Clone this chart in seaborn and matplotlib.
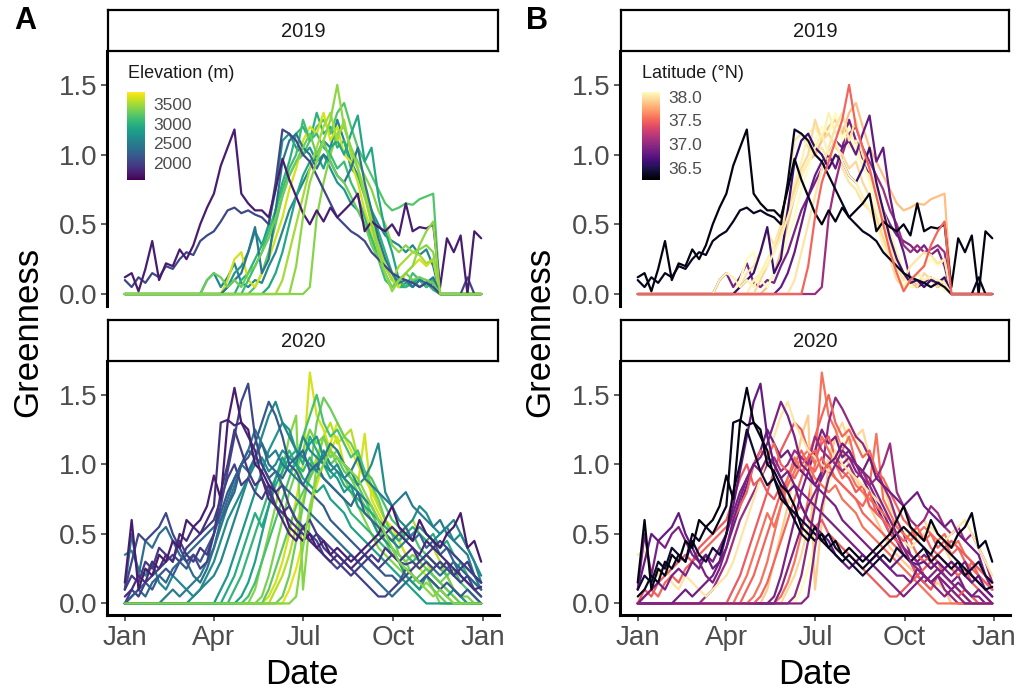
import numpy as np
import pandas as pd
import matplotlib
matplotlib.use("Agg")
import matplotlib.pyplot as plt
import seaborn as sns
from matplotlib import colors, cm

# ---------------- data (weekly greenness per site) -------------
week_start = "2020-01-01"
n_weeks = 53
tick_dates = ["2020-01-01", "2020-04-01", "2020-07-01", "2020-10-01", "2021-01-01"]
tick_labels = ["Jan", "Apr", "Jul", "Oct", "Jan"]
y_ticks = [0.0, 0.5, 1.0, 1.5]
y_tick_labels = ["0.0", "0.5", "1.0", "1.5"]
years = [2019, 2020]

elev_ticks = [2000, 2500, 3000, 3500]
lat_ticks = [36.5, 37.0, 37.5, 38.0]
lat_tick_labels = ["36.5", "37.0", "37.5", "38.0"]

# ---- 2019 sites (draw order) ----
sites_2019 = ["s19_03", "s19_04", "s19_05", "s19_06", "s19_08", "s19_09", "s19_10",
              "s19_11", "s19_12", "s19_13", "s19_14", "s19_02", "s19_01", "s19_07"]
elev_2019 = [2600, 2750, 3000, 3200, 3650, 3400, 2900, 3100, 3500, 2450, 3300, 2050, 1750, 3420]
lat_2019 = [36.90, 38.00, 38.05, 37.85, 38.10, 37.05, 36.80, 37.95, 38.00, 36.60, 38.05, 36.35, 36.30, 37.50]

s19_01 = [0.12, 0.15, 0.02, 0.18, 0.38, 0.10, 0.22, 0.20, 0.32, 0.25,
          0.35, 0.50, 0.62, 0.72, 0.92, 1.05, 1.18, 0.72, 0.65, 0.60,
          0.60, 0.55, 0.75, 0.97, 0.82, 0.70, 0.58, 0.50, 0.60, 0.52,
          0.62, 0.55, 0.60, 0.65, 0.72, 0.45, 0.52, 0.48, 0.45, 0.50,
          0.42, 0.65, 0.45, 0.48, 0.47, 0.50, 0.05, 0.40, 0.30, 0.42,
          0.00, 0.45, 0.40]
s19_02 = [0.10, 0.05, 0.12, 0.08, 0.15, 0.12, 0.20, 0.18, 0.25, 0.30,
          0.28, 0.38, 0.42, 0.45, 0.52, 0.60, 0.62, 0.58, 0.60, 0.57,
          0.55, 0.50, 0.80, 1.18, 1.15, 1.10, 1.00, 0.95, 0.85, 0.75,
          0.65, 0.55, 0.50, 0.45, 0.42, 0.38, 0.30, 0.25, 0.20, 0.15,
          0.12, 0.10, 0.08, 0.05, 0.08, 0.05, 0, 0, 0, 0,
          0.12, 0, 0]
s19_03 = [0, 0, 0, 0, 0, 0, 0, 0, 0, 0,
          0, 0, 0.10, 0.15, 0.05, 0.12, 0.22, 0.08, 0.05, 0.10,
          0.08, 0.20, 0.30, 0.45, 0.60, 0.70, 0.80, 0.90, 1.00, 1.10,
          1.05, 1.25, 1.10, 0.95, 0.85, 0.75, 0.60, 0.50, 0.42, 0.38,
          0.35, 0.30, 0.35, 0.28, 0.32, 0.20, 0, 0, 0, 0,
          0, 0, 0]
s19_04 = [0, 0, 0, 0, 0, 0, 0, 0, 0, 0,
          0, 0, 0, 0, 0, 0.05, 0.15, 0.20, 0.30, 0.45,
          0.35, 0.50, 0.75, 1.10, 1.15, 1.05, 1.00, 1.05, 0.95, 1.00,
          0.90, 0.80, 0.75, 0.65, 0.60, 0.50, 0.40, 0.30, 0.20, 0.10,
          0.05, 0.08, 0.05, 0.10, 0.05, 0.08, 0, 0, 0, 0,
          0, 0, 0]
s19_05 = [0, 0, 0, 0, 0, 0, 0, 0, 0, 0,
          0, 0, 0, 0, 0, 0, 0, 0.10, 0.15, 0.25,
          0.35, 0.45, 0.60, 0.80, 0.95, 1.15, 1.20, 1.10, 1.30, 1.15,
          1.20, 1.05, 1.10, 0.90, 0.85, 0.70, 0.60, 0.45, 0.30, 0.15,
          0.05, 0.05, 0.10, 0.05, 0.08, 0.03, 0, 0, 0, 0,
          0, 0, 0]
s19_06 = [0, 0, 0, 0, 0, 0, 0, 0, 0, 0,
          0, 0, 0, 0, 0, 0, 0, 0, 0, 0.05,
          0.15, 0.30, 0.50, 0.70, 0.85, 0.95, 1.00, 1.10, 1.20, 1.25,
          1.15, 1.30, 1.37, 1.20, 1.05, 0.95, 0.85, 0.75, 0.65, 0.60,
          0.62, 0.65, 0.64, 0.68, 0.70, 0.72, 0, 0, 0, 0,
          0, 0, 0]
s19_07 = [0, 0, 0, 0, 0, 0, 0, 0, 0, 0,
          0, 0, 0, 0, 0, 0, 0, 0, 0, 0,
          0, 0, 0, 0, 0, 0.20, 0.55, 0.80, 0.95, 1.10,
          1.25, 1.50, 1.20, 1.05, 0.90, 0.70, 0.50, 0.30, 0.15, 0.02,
          0.10, 0.15, 0.20, 0.35, 0.45, 0.52, 0, 0, 0, 0,
          0, 0, 0]
s19_08 = [0, 0, 0, 0, 0, 0, 0, 0, 0, 0,
          0, 0, 0, 0, 0, 0.10, 0.25, 0.30, 0.10, 0.05,
          0.15, 0.25, 0.40, 0.55, 0.75, 0.90, 1.10, 1.20, 1.15, 1.30,
          1.10, 1.20, 1.00, 0.95, 0.80, 0.60, 0.45, 0.30, 0.20, 0.10,
          0.05, 0.15, 0.20, 0.25, 0.20, 0.25, 0, 0, 0, 0,
          0, 0, 0]
s19_09 = [0, 0, 0, 0, 0, 0, 0, 0, 0, 0,
          0, 0, 0, 0, 0, 0, 0, 0, 0, 0,
          0, 0, 0, 0, 0, 0, 0, 0.05, 0.55, 0.80,
          1.00, 1.15, 1.20, 1.05, 0.95, 0.85, 0.75, 0.60, 0.50, 0.35,
          0.30, 0.35, 0.30, 0.32, 0.35, 0.30, 0, 0, 0, 0,
          0, 0, 0]
s19_10 = [0, 0, 0, 0, 0, 0, 0, 0, 0, 0,
          0, 0, 0, 0, 0, 0, 0, 0, 0, 0,
          0, 0.05, 0.15, 0.30, 0.50, 0.70, 0.85, 0.95, 1.00, 0.90,
          1.05, 1.10, 1.00, 1.15, 1.28, 0.95, 1.05, 0.70, 0.45, 0.30,
          0.10, 0.05, 0.08, 0.12, 0.05, 0.10, 0, 0, 0, 0,
          0, 0, 0]
s19_11 = [0, 0, 0, 0, 0, 0, 0, 0, 0, 0,
          0, 0, 0, 0, 0, 0, 0, 0, 0.10, 0.20,
          0.30, 0.45, 0.60, 0.75, 0.90, 1.00, 1.25, 1.10, 1.15, 1.05,
          1.00, 0.90, 0.95, 0.80, 0.70, 0.55, 0.40, 0.25, 0.10, 0.05,
          0.10, 0.05, 0.15, 0.10, 0.05, 0.10, 0, 0, 0, 0,
          0, 0, 0]
s19_12 = [0, 0, 0, 0, 0, 0, 0, 0, 0, 0,
          0, 0, 0, 0, 0, 0, 0, 0, 0, 0,
          0, 0, 0, 0.10, 0.30, 0.50, 0.70, 0.90, 1.05, 1.20,
          1.30, 1.10, 1.25, 1.00, 0.90, 0.75, 0.55, 0.35, 0.20, 0.10,
          0.20, 0.25, 0.30, 0.28, 0.22, 0.25, 0, 0, 0, 0,
          0, 0, 0]
s19_13 = [0, 0, 0, 0, 0, 0, 0, 0, 0, 0,
          0, 0, 0, 0, 0, 0.05, 0.10, 0.15, 0.30, 0.48,
          0.15, 0.25, 0.60, 0.95, 1.10, 1.15, 1.05, 1.00, 0.90, 1.00,
          0.95, 0.85, 0.80, 0.90, 1.05, 0.80, 0.60, 0.40, 0.25, 0.15,
          0.08, 0.10, 0.05, 0.10, 0.08, 0.12, 0, 0, 0, 0,
          0, 0, 0]
s19_14 = [0, 0, 0, 0, 0, 0, 0, 0, 0, 0,
          0, 0, 0.10, 0.15, 0.12, 0.05, 0.10, 0.05, 0.15, 0.20,
          0.30, 0.40, 0.55, 0.70, 0.85, 0.95, 1.05, 1.15, 1.00, 1.10,
          0.95, 0.85, 0.80, 0.70, 0.60, 0.50, 0.35, 0.25, 0.15, 0.05,
          0.10, 0.15, 0.10, 0.12, 0.10, 0.08, 0, 0, 0, 0,
          0, 0, 0]

# ---- 2020 sites (draw order) ----
sites_2020 = ["t22", "t15", "t12", "t14", "t13", "t24", "t16", "t11", "t17", "t10", "t23", "t09",
              "t19", "t07", "t08", "t05", "t21", "t18", "t04", "t03", "t06", "t02", "t01", "t20"]
elev_2020 = [3700, 3550, 3650, 3400, 3300, 3350, 3250, 3150, 3050, 2950, 2850, 2750,
             2650, 2600, 2500, 2300, 2000, 2350, 2200, 2050, 1950, 1850, 1750, 3400]
lat_2020 = [38.10, 37.95, 37.55, 37.90, 37.00, 36.90, 36.95, 37.50, 37.50, 37.55, 37.55, 37.45,
            37.05, 38.00, 36.85, 37.50, 37.45, 36.90, 36.90, 36.80, 36.40, 36.35, 36.30, 36.95]

t01 = [0.15, 0.60, 0.10, 0.25, 0.20, 0.35, 0.30, 0.45, 0.40, 0.60,
       0.55, 0.60, 0.70, 0.92, 0.75, 1.30, 1.55, 1.30, 1.25, 1.00,
       0.95, 0.85, 0.80, 0.70, 0.55, 0.50, 0.45, 0.50, 0.40, 0.45,
       0.35, 0.40, 0.35, 0.30, 0.35, 0.40, 0.45, 0.50, 0.60, 0.70,
       0.55, 0.50, 0.45, 0.60, 0.50, 0.45, 0.40, 0.50, 0.55, 0.65,
       0.40, 0.45, 0.30]
t02 = [0.05, 0.10, 0.20, 0.15, 0.30, 0.25, 0.35, 0.30, 0.50, 0.45,
       0.55, 0.50, 0.60, 0.70, 1.30, 1.32, 1.28, 1.30, 1.20, 1.10,
       0.90, 0.75, 0.70, 0.60, 0.50, 0.45, 0.55, 0.45, 0.40, 0.35,
       0.30, 0.35, 0.30, 0.25, 0.30, 0.35, 0.40, 0.45, 0.50, 0.55,
       0.50, 0.45, 0.40, 0.35, 0.45, 0.40, 0.35, 0.30, 0.25, 0.20,
       0.15, 0.10, 0.12]
t03 = [0.10, 0.30, 0.50, 0.45, 0.50, 0.55, 0.65, 0.50, 0.40, 0.30,
       0.35, 0.25, 0.30, 0.50, 0.70, 0.95, 1.20, 1.45, 1.58, 1.20,
       1.00, 0.90, 0.80, 0.85, 0.70, 0.60, 0.55, 0.50, 0.45, 0.35,
       0.30, 0.25, 0.30, 0.35, 0.30, 0.35, 0.30, 0.25, 0.30, 0.35,
       0.30, 0.28, 0.30, 0.25, 0.30, 0.25, 0.30, 0.25, 0.20, 0.15,
       0.20, 0.10, 0.05]
t04 = [0, 0.05, 0.10, 0.15, 0.10, 0.20, 0.25, 0.20, 0.30, 0.25,
       0.35, 0.30, 0.40, 0.50, 0.65, 0.80, 0.90, 1.00, 1.05, 1.15,
       1.30, 1.45, 1.35, 1.20, 1.00, 0.95, 0.85, 0.80, 0.75, 0.70,
       0.60, 0.55, 0.50, 0.45, 0.40, 0.35, 0.30, 0.25, 0.20, 0.20,
       0.15, 0.25, 0.20, 0.15, 0.20, 0.15, 0.10, 0.15, 0.10, 0.05,
       0.10, 0.05, 0]
t05 = [0, 0.05, 0.10, 0.05, 0.15, 0.20, 0.15, 0.25, 0.30, 0.35,
       0.40, 0.45, 0.50, 0.55, 0.60, 0.70, 0.80, 1.00, 1.10, 1.05,
       1.15, 1.00, 0.95, 0.90, 1.00, 1.05, 1.10, 0.95, 1.00, 0.90,
       0.85, 0.80, 0.75, 0.70, 0.80, 0.65, 0.60, 0.55, 0.50, 0.45,
       0.50, 0.55, 0.45, 0.50, 0.40, 0.45, 0.35, 0.40, 0.30, 0.25,
       0.20, 0.15, 0.10]
t06 = [0.10, 0.20, 0.15, 0.30, 0.25, 0.40, 0.35, 0.30, 0.45, 0.35,
       0.30, 0.40, 0.35, 0.50, 0.80, 1.00, 1.25, 1.10, 0.95, 0.85,
       0.90, 0.80, 0.70, 0.65, 0.60, 0.55, 0.50, 0.45, 0.50, 0.40,
       0.35, 0.30, 0.25, 0.20, 0.25, 0.30, 0.35, 0.30, 0.40, 0.35,
       0.30, 0.35, 0.40, 0.30, 0.35, 0.30, 0.25, 0.30, 0.20, 0.25,
       0.30, 0.20, 0.15]
t07 = [0.35, 0.38, 0.25, 0.20, 0.30, 0.15, 0.10, 0.20, 0.15, 0.10,
       0.05, 0.10, 0.15, 0.20, 0.30, 0.45, 0.60, 0.75, 0.90, 1.05,
       1.20, 1.35, 1.45, 1.30, 1.20, 1.10, 1.05, 1.00, 0.95, 1.10,
       1.00, 0.95, 0.90, 0.85, 0.80, 0.75, 0.70, 0.60, 0.50, 0.45,
       0.40, 0.45, 0.50, 0.55, 0.50, 0.45, 0.50, 0.55, 0.60, 0.50,
       0.40, 0.30, 0.20]
t08 = [0, 0, 0, 0, 0, 0, 0.05, 0.10, 0.05, 0.10,
       0.15, 0.20, 0.30, 0.40, 0.55, 0.70, 0.85, 1.00, 1.10, 1.25,
       1.15, 1.05, 1.10, 1.00, 0.95, 0.90, 0.85, 0.95, 1.00, 1.05,
       1.15, 1.10, 1.00, 0.95, 1.05, 0.90, 0.85, 0.80, 0.75, 0.70,
       0.75, 0.80, 0.70, 0.65, 0.60, 0.55, 0.60, 0.50, 0.45, 0.40,
       0.35, 0.20, 0.10]
t09 = [0, 0, 0, 0, 0, 0, 0, 0, 0, 0,
       0, 0, 0, 0, 0.10, 0.20, 0.35, 0.50, 0.65, 0.80,
       0.95, 1.10, 1.20, 1.30, 1.25, 1.10, 1.05, 1.15, 1.20, 1.05,
       0.95, 0.90, 0.80, 0.85, 0.70, 0.65, 0.60, 0.50, 0.45, 0.40,
       0.30, 0.20, 0.15, 0.10, 0.20, 0.15, 0.10, 0.05, 0.10, 0.05,
       0, 0, 0]
t10 = [0, 0, 0, 0, 0, 0, 0, 0, 0, 0,
       0, 0, 0, 0, 0, 0.10, 0.20, 0.35, 0.50, 0.65,
       0.55, 0.70, 0.85, 0.95, 1.05, 1.10, 1.00, 1.20, 1.10, 1.00,
       0.90, 0.95, 0.85, 0.80, 0.75, 0.70, 0.65, 0.60, 0.55, 0.50,
       0.45, 0.50, 0.55, 0.50, 0.45, 0.50, 0.40, 0.45, 0.35, 0.30,
       0.25, 0.20, 0.15]
t11 = [0, 0, 0, 0, 0, 0, 0, 0, 0, 0,
       0, 0, 0, 0, 0, 0, 0, 0, 0.05, 0.15,
       0.30, 0.45, 0.60, 0.75, 0.90, 1.05, 1.20, 1.35, 1.50, 1.30,
       1.20, 1.25, 1.15, 1.05, 1.10, 0.95, 0.90, 0.80, 0.70, 0.60,
       0.55, 0.45, 0.50, 0.40, 0.35, 0.30, 0.25, 0.20, 0.25, 0.15,
       0.10, 0.05, 0]
t12 = [0, 0, 0, 0, 0, 0, 0, 0, 0, 0,
       0, 0, 0, 0, 0, 0, 0, 0, 0, 0,
       0, 0.05, 0.15, 0.30, 0.50, 0.75, 1.00, 1.66, 1.35, 1.25,
       1.10, 1.20, 1.00, 0.95, 0.85, 1.22, 0.75, 0.65, 0.55, 0.50,
       0.45, 0.35, 0.30, 0.25, 0.30, 0.20, 0.15, 0.10, 0.05, 0,
       0, 0, 0]
t13 = [0, 0, 0, 0, 0, 0, 0, 0, 0, 0,
       0, 0, 0, 0, 0, 0, 0, 0, 0, 0,
       0, 0, 0, 0.05, 0.20, 0.45, 0.70, 0.95, 1.30, 1.48,
       1.40, 1.30, 1.20, 1.15, 1.05, 0.95, 0.85, 0.75, 0.60, 0.50,
       0.35, 0.30, 0.20, 0.15, 0.20, 0.10, 0.05, 0, 0, 0,
       0, 0, 0]
t14 = [0, 0, 0, 0, 0, 0, 0, 0, 0, 0,
       0, 0, 0, 0, 0, 0, 0, 0, 0, 0.10,
       0.30, 0.50, 0.70, 0.95, 1.20, 1.35, 0.10, 0.60, 1.00, 1.20,
       1.10, 1.00, 0.90, 0.80, 0.70, 0.60, 0.50, 0.40, 0.35, 0.30,
       0.25, 0.20, 0.15, 0.10, 0.15, 0.10, 0, 0, 0, 0,
       0, 0, 0]
t15 = [0, 0, 0, 0, 0, 0, 0, 0, 0, 0,
       0, 0, 0, 0, 0, 0, 0, 0, 0, 0,
       0, 0, 0.10, 0.20, 0.35, 0.55, 0.75, 0.90, 1.05, 1.20,
       1.30, 1.15, 1.20, 1.25, 1.05, 0.95, 0.85, 0.70, 0.60, 0.50,
       0.45, 0.55, 0.60, 0.50, 0.45, 0.40, 0.30, 0.20, 0.10, 0.05,
       0, 0, 0]
t16 = [0, 0, 0, 0, 0, 0, 0, 0, 0, 0,
       0, 0, 0, 0, 0, 0, 0, 0, 0, 0,
       0, 0.10, 0.25, 0.40, 0.55, 0.70, 0.80, 0.90, 1.00, 1.05,
       1.00, 1.05, 0.95, 0.90, 0.85, 0.75, 0.65, 0.55, 0.45, 0.35,
       0.30, 0.20, 0.15, 0.20, 0.25, 0.20, 0.15, 0.10, 0.05, 0,
       0, 0, 0]
t17 = [0, 0, 0, 0, 0, 0, 0, 0, 0, 0,
       0, 0, 0, 0, 0, 0, 0.10, 0.20, 0.35, 0.50,
       0.65, 0.80, 0.90, 1.00, 1.10, 1.00, 0.95, 1.05, 0.95, 0.90,
       0.85, 0.80, 0.75, 0.65, 0.60, 0.55, 0.50, 0.45, 0.40, 0.35,
       0.30, 0.35, 0.30, 0.35, 0.30, 0.25, 0.30, 0.25, 0.20, 0.30,
       0.20, 0.15, 0.10]
t18 = [0.10, 0.50, 0.20, 0.45, 0.40, 0.50, 0.55, 0.45, 0.35, 0.30,
       0.20, 0.15, 0.25, 0.40, 0.60, 0.75, 0.90, 1.00, 0.95, 1.05,
       1.00, 0.90, 0.95, 0.85, 0.80, 0.75, 0.70, 0.65, 0.60, 0.55,
       0.50, 0.45, 0.40, 0.35, 0.30, 0.25, 0.20, 0.15, 0.10, 0.05,
       0.10, 0.15, 0.20, 0.15, 0.20, 0.25, 0.20, 0.25, 0.30, 0.20,
       0.15, 0.10, 0.05]
t19 = [0, 0, 0, 0, 0, 0, 0, 0, 0, 0,
       0.05, 0.10, 0.20, 0.30, 0.45, 0.60, 0.70, 0.80, 0.90, 1.00,
       1.05, 0.95, 1.00, 1.10, 1.05, 1.00, 1.20, 1.10, 1.05, 1.00,
       0.95, 1.00, 0.90, 0.95, 0.85, 0.90, 1.00, 1.15, 0.80, 0.70,
       0.60, 0.55, 0.60, 0.70, 0.65, 0.55, 0.50, 0.55, 0.45, 0.50,
       0.40, 0.30, 0.15]
t20 = [0, 0, 0, 0, 0, 0, 0, 0, 0, 0,
       0, 0, 0, 0, 0, 0, 0, 0, 0, 0,
       0, 0, 0, 0, 0, 0.05, 0.40, 0.70, 0.90, 1.00,
       1.10, 1.05, 1.00, 0.95, 0.90, 0.80, 0.70, 0.60, 0.50, 0.40,
       0.30, 0.25, 0.20, 0.15, 0.10, 0.05, 0.10, 0.05, 0, 0,
       0, 0, 0]
t21 = [0, 0.10, 0.05, 0.15, 0.20, 0.25, 0.30, 0.35, 0.30, 0.40,
       0.45, 0.50, 0.55, 0.60, 0.75, 0.90, 1.00, 0.85, 0.90, 0.80,
       0.75, 0.85, 0.70, 0.65, 0.70, 0.60, 0.55, 0.60, 0.50, 0.45,
       0.40, 0.35, 0.30, 0.25, 0.20, 0.15, 0.10, 0.05, 0.05, 0.10,
       0.15, 0.20, 0.25, 0.30, 0.35, 0.40, 0.45, 0.40, 0.35, 0.30,
       0.25, 0.20, 0.15]
t22 = [0, 0, 0, 0, 0, 0, 0, 0, 0, 0,
       0, 0, 0, 0, 0, 0, 0, 0, 0, 0,
       0, 0, 0, 0, 0.10, 0.25, 0.45, 0.65, 0.85, 1.00,
       1.15, 1.30, 1.20, 1.10, 1.00, 0.90, 0.80, 0.70, 0.60, 0.55,
       0.45, 0.35, 0.30, 0.25, 0.20, 0.15, 0.10, 0.05, 0, 0,
       0, 0, 0]
t23 = [0, 0, 0, 0, 0, 0, 0, 0, 0, 0,
       0, 0, 0, 0, 0, 0, 0, 0.05, 0.15, 0.30,
       0.50, 0.70, 0.90, 1.05, 0.95, 1.00, 0.90, 0.85, 0.80, 0.85,
       0.75, 0.70, 0.65, 0.55, 0.50, 0.45, 0.40, 0.35, 0.30, 0.25,
       0.20, 0.15, 0.10, 0.05, 0, 0, 0, 0, 0, 0,
       0, 0, 0]
t24 = [0, 0, 0, 0, 0, 0, 0, 0, 0, 0,
       0, 0, 0, 0, 0, 0, 0, 0, 0, 0,
       0.05, 0.20, 0.40, 0.60, 0.80, 0.95, 1.10, 1.25, 1.15, 1.20,
       1.05, 1.10, 1.00, 0.90, 0.80, 0.70, 0.60, 0.50, 0.45, 0.40,
       0.35, 0.30, 0.35, 0.30, 0.25, 0.20, 0.15, 0.20, 0.10, 0.05,
       0.05, 0, 0]

# ---------------- assemble long table ----------------
week_dates = pd.date_range(week_start, periods=n_weeks, freq="7D")
g = globals()
rows = []
for yr, sites, elevs, lats in [(2019, sites_2019, elev_2019, lat_2019),
                               (2020, sites_2020, elev_2020, lat_2020)]:
    for s, e, la in zip(sites, elevs, lats):
        vals = g[s]
        if len(vals) != n_weeks:
            raise ValueError(f"{s} has {len(vals)} values")
        for d, v in zip(week_dates, vals):
            rows.append((yr, s, e, la, d, v))
df = pd.DataFrame(rows, columns=["year", "site", "elev", "lat", "date", "greenness"])

# ---------------- styling ----------------
sns.set_theme(style="white")
plt.rcParams['font.family'] = ['Liberation Sans', 'DejaVu Sans']

W, H = 1020, 694
fig = plt.figure(figsize=(W / 100, H / 100), dpi=100)


def box(x0, y0, x1, y1):
    return [x0 / W, 1 - y1 / H, (x1 - x0) / W, (y1 - y0) / H]


elev_norm = colors.Normalize(1575, 3800)
lat_norm = colors.Normalize(36.24, 38.10)
panels = {
    "A": dict(x0=107, x1=499, var="elev", cmap=plt.get_cmap("viridis"), norm=elev_norm),
    "B": dict(x0=620, x1=1010, var="lat", cmap=plt.get_cmap("magma"), norm=lat_norm),
}
row_geom = {2019: dict(strip=(10, 51), panel=(51, 305.6)),
            2020: dict(strip=(320, 361), panel=(361, 615))}

tick_ts = pd.to_datetime(tick_dates)
xmin = week_dates[0] - pd.Timedelta(days=18.2)
xmax = week_dates[-1] + pd.Timedelta(days=18.2)
grey30 = "#4D4D4D"

for key, p in panels.items():
    for yr in years:
        rg = row_geom[yr]
        ax = fig.add_axes(box(p["x0"], rg["panel"][0], p["x1"], rg["panel"][1]))
        sub = df[df.year == yr]
        order = sites_2019 if yr == 2019 else sites_2020
        info = sub.drop_duplicates("site").set_index("site")
        pal = {s: p["cmap"](p["norm"](info.loc[s, p["var"]])) for s in order}
        sns.lineplot(data=sub, x="date", y="greenness", hue="site", hue_order=order,
                     palette=pal, estimator=None, sort=False, linewidth=1.6,
                     legend=False, ax=ax)
        ax.set_xlim(xmin, xmax)
        ax.set_ylim(-0.083, 1.743)
        ax.set_xlabel("")
        ax.set_ylabel("")
        ax.set_yticks(y_ticks)
        ax.set_yticklabels(y_tick_labels)
        ax.set_xticks(tick_ts)
        ax.set_xticklabels(tick_labels)
        for sp in ["top", "right"]:
            ax.spines[sp].set_visible(False)
        ax.spines["left"].set_linewidth(2.2)
        ax.spines["left"].set_color("black")
        ax.tick_params(axis="y", length=4, width=1.1, color="#333333",
                       labelsize=20, labelcolor=grey30, pad=3, left=True)
        if yr == 2019:
            ax.spines["bottom"].set_visible(False)
            ax.tick_params(axis="x", bottom=False, labelbottom=False)
        else:
            ax.spines["bottom"].set_linewidth(2.2)
            ax.spines["bottom"].set_color("black")
            ax.tick_params(axis="x", length=4, width=1.1, color="#333333",
                           labelsize=20, labelcolor=grey30, pad=3, bottom=True)
        ax.grid(False)

        # strip
        sax = fig.add_axes(box(p["x0"] + 1, rg["strip"][0], p["x1"] - 1, rg["strip"][1]))
        sax.set_xticks([])
        sax.set_yticks([])
        sax.set_facecolor("white")
        for sp in sax.spines.values():
            sp.set_visible(True)
            sp.set_linewidth(1.6)
            sp.set_color("black")
        sax.text(0.5, 0.47, str(yr), ha="center", va="center", fontsize=14.5,
                 color="#1A1A1A", transform=sax.transAxes)

# axis titles and panel tags
for xc, xd, tag, xt in [(28, 302, "A", 25), (540, 815, "B", 537)]:
    fig.text(xc / W, 1 - 332 / H, "Greenness", rotation=90, ha="center", va="center",
             fontsize=25, color="black")
    fig.text(xd / W, 1 - 674 / H, "Date", ha="center", va="center", fontsize=25, color="black")
    fig.text(xt / W, 1 - 21 / H, tag, ha="center", va="center", fontsize=22,
             fontweight="bold", color="black")

# colorbars
for (x0, x1, title, tx, cmapname, norm, ticks, tlabels) in [
        (127, 145, "Elevation (m)", 128, "viridis", elev_norm, elev_ticks,
         [str(t) for t in elev_ticks]),
        (642, 660, "Latitude (°N)", 642, "magma", lat_norm, lat_ticks, lat_tick_labels)]:
    cax = fig.add_axes(box(x0, 92, x1, 180))
    sm = cm.ScalarMappable(norm=norm, cmap=plt.get_cmap(cmapname))
    cb = fig.colorbar(sm, cax=cax, ticks=ticks)
    cb.ax.set_yticklabels(tlabels)
    cb.outline.set_visible(False)
    cax.tick_params(axis="y", direction="in", length=3.5, width=0.8, color="white",
                    left=True, right=True, labelsize=12.5, labelcolor=grey30, pad=6)
    fig.text(tx / W, 1 - 73 / H, title, ha="left", va="center", fontsize=13, color="#1A1A1A")

fig.savefig("out.png", dpi=100, facecolor="white")
